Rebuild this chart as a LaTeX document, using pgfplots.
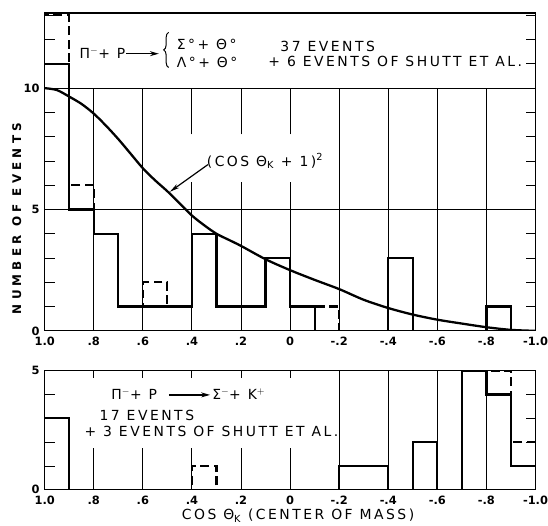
\documentclass[border=0pt]{standalone}
\usepackage{fontspec}
\setmainfont{DejaVu Sans}
\newfontfamily\lett[LetterSpace=18]{DejaVu Sans}
\newfontfamily\lettw[LetterSpace=35]{DejaVu Sans}
\usepackage{pgfplots}
\usepackage{pgfplotstable}
\pgfplotsset{compat=1.18}
\usetikzlibrary{arrows.meta,decorations.pathreplacing}

\newcommand\ticklab{\fontsize{11.5bp}{13bp}\selectfont\bfseries}
\newcommand\txt{\fontsize{14bp}{16bp}\selectfont\lett}

\pgfplotstableread{
x y
-1.0 0
-0.9 1
-0.8 0
-0.7 0
-0.6 0
-0.5 3
-0.4 0
-0.3 0
-0.2 0
-0.1 1
0.0 3
0.1 1
0.2 1
0.3 4
0.4 1
0.5 1
0.6 1
0.7 4
0.8 5
0.9 11
1.0 11
}\topsolid

\pgfplotstableread{
x y
-1.0 0
-0.9 1
-0.8 0
-0.7 0
-0.6 0
-0.5 3
-0.4 0
-0.3 0
-0.2 1
-0.1 1
0.0 3
0.1 1
0.2 1
0.3 4
0.4 1
0.5 2
0.6 1
0.7 4
0.8 6
0.9 13
1.0 13
}\topdash

\pgfplotstableread{
x y
-1.0 1
-0.9 4
-0.8 5
-0.7 0
-0.6 2
-0.5 0
-0.4 1
-0.3 1
-0.2 0
-0.1 0
0.0 0
0.1 0
0.2 0
0.3 0
0.4 0
0.5 0
0.6 0
0.7 0
0.8 0
0.9 3
1.0 3
}\botsolid

\pgfplotstableread{
x y
-1.0 2
-0.9 5
-0.8 5
-0.7 0
-0.6 2
-0.5 0
-0.4 1
-0.3 1
-0.2 0
-0.1 0
0.0 0
0.1 0
0.2 0
0.3 1
0.4 0
0.5 0
0.6 0
0.7 0
0.8 0
0.9 3
1.0 3
}\botdash

\tikzset{gridl/.style={line width=0.9bp, black}}
\pgfplotsset{
  hist/.style={
    scale only axis, width=494bp,
    xmin=-1, xmax=1, x dir=reverse,
    xtick={1,0.8,0.6,0.4,0.2,0,-0.2,-0.4,-0.6,-0.8,-1},
    xticklabels={1.0,.8,.6,.4,.2,0,-.2,-.4,-.6,-.8,-1.0},
    xtick style={draw=none},
    major tick length=10bp, minor tick length=10bp,
    axis line style={line width=1.2bp},
    ytick style={line width=0.9bp, black},
    minor tick style={line width=0.9bp, black},
    xticklabel style={anchor=base, yshift=-15bp, inner sep=0pt, font=\ticklab},
    yticklabel style={anchor=east, xshift=-5bp, inner sep=0pt, font=\ticklab},
  },
  solidh/.style={const plot, line width=2.2bp, black, mark=none},
  dashh/.style={const plot, line width=2.2bp, black, mark=none, dash pattern=on 9bp off 4.5bp},
}

\begin{document}
\begin{tikzpicture}
\begin{axis}[hist, height=320bp, ymin=0, ymax=13.1,
  ytick={0,5,10}, yticklabels={0,5,10},
  minor ytick={1,2,3,4,6,7,8,9,11,12,13},
  at={(0,0)}, anchor=south west]
  % grid
  \pgfplotsinvokeforeach{0.8,0.6,-0.2,-0.4,-0.6,-0.8}{
    \draw[gridl] (axis cs:#1,0) -- (axis cs:#1,10);}
  \pgfplotsinvokeforeach{0.4,0.2,0}{
    \draw[gridl] (axis cs:#1,0) -- (axis cs:#1,6.15);
    \draw[gridl] (axis cs:#1,8.1) -- (axis cs:#1,10);}
  \draw[gridl] (axis cs:1,5) -- (axis cs:-1,5);
  \draw[gridl] (axis cs:1,10) -- (axis cs:-1,10);
  % histograms
  \addplot[dashh] table[x=x,y=y] {\topdash};
  \addplot[solidh] table[x=x,y=y] {\topsolid};
  % curve
  \addplot[smooth, line width=2.3bp, black, mark=none] coordinates {
    (1.0,10.0) (0.95,9.92) (0.9,9.65) (0.85,9.35) (0.8,8.95) (0.75,8.45)
    (0.7,7.9) (0.65,7.3) (0.6,6.7) (0.55,6.2) (0.5,5.75) (0.45,5.25)
    (0.4,4.75) (0.35,4.35) (0.3,4.0) (0.25,3.75) (0.2,3.5) (0.1,2.95)
    (0.0,2.5) (-0.1,2.1) (-0.2,1.72) (-0.3,1.28) (-0.4,0.94) (-0.5,0.67)
    (-0.6,0.46) (-0.7,0.3) (-0.8,0.15) (-0.9,0.04) (-1.0,0)};
  % labels
  \node[anchor=west, inner sep=0pt] at (axis cs:0.858,11.45) {\txt Π$^{-}$+ P};
  \draw[line width=1.2bp, -{Stealth[length=9bp,width=5bp]}] (axis cs:0.668,11.42) -- (axis cs:0.535,11.42);
  \draw[line width=1bp, decorate, decoration={brace, amplitude=5bp}] (axis cs:0.495,10.85) -- (axis cs:0.495,12.3);
  \node[anchor=west, inner sep=0pt] at (axis cs:0.462,11.8) {\txt Σ°+ Θ°};
  \node[anchor=west, inner sep=0pt] at (axis cs:0.462,11.07) {\txt Λ°+ Θ°};
  \node[anchor=west, inner sep=0pt] at (axis cs:0.040,11.7) {\txt 37 EVENTS};
  \node[anchor=west, inner sep=0pt] at (axis cs:0.089,11.1) {\txt + 6 EVENTS OF SHUTT ET AL.};
  \node[anchor=west, inner sep=0pt] at (axis cs:0.34,7.0) {\txt (COS Θ\textsubscript{K} + 1)\textsuperscript{2}};
  \draw[line width=1.2bp, -{Stealth[length=10bp,width=4.5bp]}] (axis cs:0.335,6.85) -- (axis cs:0.49,5.73);
\end{axis}

\begin{axis}[hist, height=120bp, ymin=0, ymax=5,
  ytick={0,5}, yticklabels={0,5},
  minor ytick={1,2,3,4},
  at={(0,-40bp)}, anchor=north west]
  \pgfplotsinvokeforeach{0.8,0.6,0.4,0.2,0}{
    \draw[gridl] (axis cs:#1,0) -- (axis cs:#1,1.75);
    \draw[gridl] (axis cs:#1,4.7) -- (axis cs:#1,5);}
  \pgfplotsinvokeforeach{-0.2,-0.4,-0.6,-0.8}{
    \draw[gridl] (axis cs:#1,0) -- (axis cs:#1,5);}
  \addplot[dashh] table[x=x,y=y] {\botdash};
  \addplot[solidh] table[x=x,y=y] {\botsolid};
  \node[anchor=west, inner sep=0pt] at (axis cs:0.729,4.0) {\txt Π$^{-}$+ P};
  \draw[line width=1.2bp, -{Stealth[length=9bp,width=5bp]}] (axis cs:0.494,3.98) -- (axis cs:0.326,3.98);
  \node[anchor=west, inner sep=0pt] at (axis cs:0.318,4.0) {\txt Σ$^{-}$+ K$^{+}$};
  \node[anchor=west, inner sep=0pt] at (axis cs:0.777,3.1) {\txt 17 EVENTS};
  \node[anchor=west, inner sep=0pt] at (axis cs:0.838,2.45) {\txt + 3 EVENTS OF SHUTT ET AL.};
\end{axis}

\node[rotate=90, inner sep=0pt] at (-28bp,113bp) {\fontsize{12bp}{14bp}\selectfont\lettw\bfseries NUMBER OF EVENTS};
\node[inner sep=0pt] at (255bp,-186bp) {\txt COS Θ\textsubscript{K} (CENTER OF MASS)};
\path (-45bp,-196bp) rectangle (503bp,333bp);
\end{tikzpicture}
\end{document}
